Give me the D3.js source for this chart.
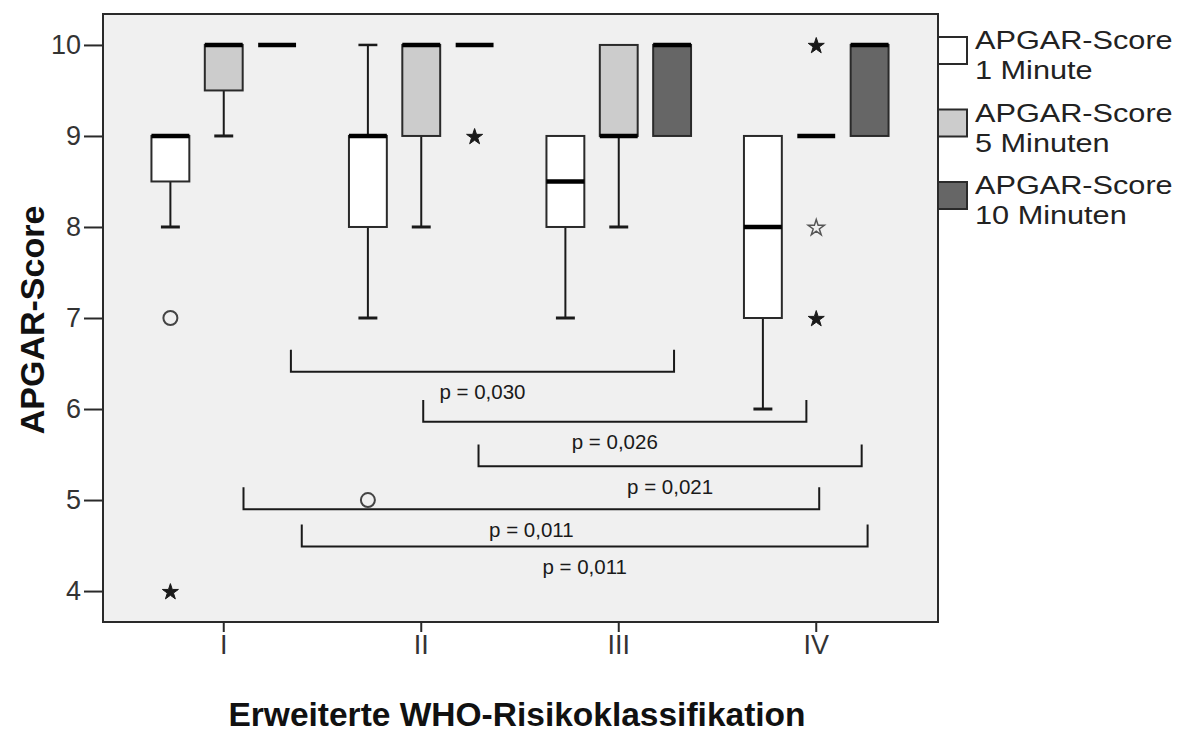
<!DOCTYPE html>
<html>
<head>
<meta charset="utf-8">
<script src="https://cdn.jsdelivr.net/npm/d3@7"></script>
<style>
  html, body { margin: 0; padding: 0; background: #ffffff; }
  svg { display: block; }
  text { font-family: "Liberation Sans", Arial, Helvetica, sans-serif; }
</style>
</head>
<body>
<svg id="chart" width="1187" height="734"></svg>
<script>
// Risk classes (x categories) and the three APGAR time points (series)
const categories = ["I", "II", "III", "IV"];
const seriesLabels = [
  ["APGAR-Score", "1 Minute"],
  ["APGAR-Score", "5 Minuten"],
  ["APGAR-Score", "10 Minuten"]
];
const seriesFill = ["#ffffff", "#cccccc", "#666666"];

// Box-plot statistics per risk class: lower whisker, Q1, median, Q3, upper whisker
const apgar1Min = [
  { lo: 8, q1: 8.5, med: 9,   q3: 9,  hi: 9 },
  { lo: 7, q1: 8,   med: 9,   q3: 9,  hi: 10 },
  { lo: 7, q1: 8,   med: 8.5, q3: 9,  hi: 9 },
  { lo: 6, q1: 7,   med: 8,   q3: 9,  hi: 9 }
];
const apgar5Min = [
  { lo: 9, q1: 9.5, med: 10, q3: 10, hi: 10 },
  { lo: 8, q1: 9,   med: 10, q3: 10, hi: 10 },
  { lo: 8, q1: 9,   med: 9,  q3: 10, hi: 10 },
  { lo: 9, q1: 9,   med: 9,  q3: 9,  hi: 9 }
];
const apgar10Min = [
  { lo: 10, q1: 10, med: 10, q3: 10, hi: 10 },
  { lo: 10, q1: 10, med: 10, q3: 10, hi: 10 },
  { lo: 9,  q1: 9,  med: 10, q3: 10, hi: 10 },
  { lo: 9,  q1: 9,  med: 10, q3: 10, hi: 10 }
];
const seriesStats = [apgar1Min, apgar5Min, apgar10Min];

// Outliers (circle) and extreme values (star); series index 0 = 1 min, 1 = 5 min, 2 = 10 min
const outlierCategory = ["I", "I", "II", "II", "IV", "IV", "IV"];
const outlierSeries   = [0, 0, 0, 2, 1, 1, 1];
const outlierValue    = [7, 4, 5, 9, 10, 8, 7];
const outlierKind     = ["circle", "star", "circle", "star", "star", "hollowStar", "star"];

// Pairwise comparison brackets: span in category-index units, height in score units
const bracketLabel = ["p = 0,030", "p = 0,026", "p = 0,021", "p = 0,011", "p = 0,011"];
const bracketFrom  = [0.34, 1.01, 1.29, 0.10, 0.395];
const bracketTo    = [2.28, 2.95, 3.23, 3.015, 3.26];
const bracketLevel = [6.41, 5.86, 5.37, 4.90, 4.49];

const yTicks = [4, 5, 6, 7, 8, 9, 10];

// ---- layout ----
const frame = { left: 103, top: 14, right: 938, bottom: 622 };
const svg = d3.select("#chart");

const y = d3.scaleLinear().domain([3.66, 10.34]).range([frame.bottom, frame.top]);
const x = d3.scaleBand().domain(categories).range([125, 915]).padding(0);
const xCenter = c => x(c) + x.bandwidth() / 2;
const xSeries = d3.scaleBand().domain([0, 1, 2]).range([-72.3, 72.3]).paddingInner(0.29).paddingOuter(0);
const boxW = xSeries.bandwidth();
const xIndex = d3.scaleLinear().domain([0, categories.length - 1])
  .range([xCenter(categories[0]), xCenter(categories[categories.length - 1])]);

// plot background
svg.append("rect")
  .attr("x", frame.left).attr("y", frame.top)
  .attr("width", frame.right - frame.left).attr("height", frame.bottom - frame.top)
  .attr("fill", "#f0f0f0");

// comparison brackets
const brackets = svg.append("g").attr("class", "brackets");
bracketLabel.forEach((label, i) => {
  const x0 = xIndex(bracketFrom[i]), x1 = xIndex(bracketTo[i]);
  const yl = y(bracketLevel[i]), yt = y(bracketLevel[i] + 0.24);
  brackets.append("path")
    .attr("d", `M${x0},${yt}V${yl}H${x1}V${yt}`)
    .attr("fill", "none").attr("stroke", "#1a1a1a").attr("stroke-width", 2);
  brackets.append("text")
    .attr("x", (x0 + x1) / 2).attr("y", yl + 20)
    .attr("text-anchor", "middle").attr("dominant-baseline", "central")
    .attr("font-size", 20.5).attr("fill", "#1a1a1a")
    .text(label);
});

// box plots
const boxes = svg.append("g").attr("class", "boxes");
seriesStats.forEach((stats, s) => {
  stats.forEach((d, ci) => {
    const cx = xCenter(categories[ci]) + xSeries(s) + boxW / 2;
    const g = boxes.append("g");
    const capW = boxW / 2;
    // whiskers
    if (d.hi > d.q3) {
      g.append("line").attr("x1", cx).attr("x2", cx).attr("y1", y(d.q3)).attr("y2", y(d.hi))
        .attr("stroke", "#1a1a1a").attr("stroke-width", 2);
      g.append("line").attr("x1", cx - capW / 2).attr("x2", cx + capW / 2).attr("y1", y(d.hi)).attr("y2", y(d.hi))
        .attr("stroke", "#1a1a1a").attr("stroke-width", 2.5);
    }
    if (d.lo < d.q1) {
      g.append("line").attr("x1", cx).attr("x2", cx).attr("y1", y(d.q1)).attr("y2", y(d.lo))
        .attr("stroke", "#1a1a1a").attr("stroke-width", 2);
      g.append("line").attr("x1", cx - capW / 2).attr("x2", cx + capW / 2).attr("y1", y(d.lo)).attr("y2", y(d.lo))
        .attr("stroke", "#1a1a1a").attr("stroke-width", 3);
    }
    // box
    if (d.q3 > d.q1) {
      g.append("rect")
        .attr("x", cx - boxW / 2).attr("y", y(d.q3))
        .attr("width", boxW).attr("height", y(d.q1) - y(d.q3))
        .attr("fill", seriesFill[s]).attr("stroke", "#2a2a2a").attr("stroke-width", 2);
    }
    // median
    g.append("line")
      .attr("x1", cx - boxW / 2).attr("x2", cx + boxW / 2)
      .attr("y1", y(d.med)).attr("y2", y(d.med))
      .attr("stroke", "#000").attr("stroke-width", 4.5);
  });
});

// outliers and extremes
const marks = svg.append("g").attr("class", "outliers");
const starPath = d3.symbol().type(d3.symbolStar).size(80)();
outlierValue.forEach((v, i) => {
  const ci = categories.indexOf(outlierCategory[i]);
  const s = outlierSeries[i];
  const cx = xCenter(categories[ci]) + xSeries(s) + boxW / 2;
  const cy = y(v);
  if (outlierKind[i] === "circle") {
    marks.append("circle").attr("cx", cx).attr("cy", cy).attr("r", 7)
      .attr("fill", "none").attr("stroke", "#444").attr("stroke-width", 2);
  } else {
    const hollow = outlierKind[i] === "hollowStar";
    marks.append("path").attr("d", starPath)
      .attr("transform", `translate(${cx},${cy + 1})`)
      .attr("fill", hollow ? "none" : "#1a1a1a")
      .attr("stroke", hollow ? "#555" : "#1a1a1a")
      .attr("stroke-width", hollow ? 1.5 : 1);
  }
});

// frame
svg.append("rect")
  .attr("x", frame.left).attr("y", frame.top)
  .attr("width", frame.right - frame.left).attr("height", frame.bottom - frame.top)
  .attr("fill", "none").attr("stroke", "#2a2a2a").attr("stroke-width", 2);

// y axis
const yAxis = svg.append("g")
  .attr("transform", `translate(${frame.left},0)`)
  .call(d3.axisLeft(y).tickValues(yTicks).tickSize(19).tickPadding(3).tickFormat(d3.format("d")));
yAxis.select(".domain").remove();
yAxis.selectAll(".tick line").attr("stroke", "#2a2a2a").attr("stroke-width", 2);
yAxis.selectAll(".tick text")
  .attr("font-size", 27).attr("fill", "#333")
  .style("font-family", "'Liberation Sans', Arial, sans-serif");

// x axis
const xAxis = svg.append("g")
  .attr("transform", `translate(0,${frame.bottom})`)
  .call(d3.axisBottom(x).tickSize(10).tickPadding(3));
xAxis.select(".domain").remove();
xAxis.selectAll(".tick line").attr("stroke", "#2a2a2a").attr("stroke-width", 2);
xAxis.selectAll(".tick text")
  .attr("font-size", 27).attr("fill", "#333")
  .style("font-family", "'Liberation Sans', Arial, sans-serif");

// axis titles
svg.append("text")
  .attr("transform", "translate(32,320) rotate(-90)")
  .attr("text-anchor", "middle").attr("dominant-baseline", "central")
  .attr("font-size", 34).attr("font-weight", "bold").attr("fill", "#111")
  .text("APGAR-Score");
svg.append("text")
  .attr("x", 517).attr("y", 726)
  .attr("text-anchor", "middle")
  .attr("font-size", 33.5).attr("font-weight", "bold").attr("fill", "#111")
  .text("Erweiterte WHO-Risikoklassifikation");

// legend: two-line labels, slightly widened glyphs to keep the tight line pitch
const legend = svg.append("g").attr("class", "legend");
seriesLabels.forEach((lines, i) => {
  const top = 37 + i * 72.5;
  legend.append("rect")
    .attr("x", 938).attr("y", top).attr("width", 29).attr("height", 27)
    .attr("fill", seriesFill[i]).attr("stroke", "#2a2a2a").attr("stroke-width", 2);
  lines.forEach((t, j) => {
    legend.append("text")
      .attr("transform", `translate(975,${top + 3 + j * 30}) scale(1.18,1)`)
      .attr("dominant-baseline", "central")
      .attr("font-size", 26).attr("fill", "#222")
      .text(t);
  });
});
</script>
</body>
</html>
